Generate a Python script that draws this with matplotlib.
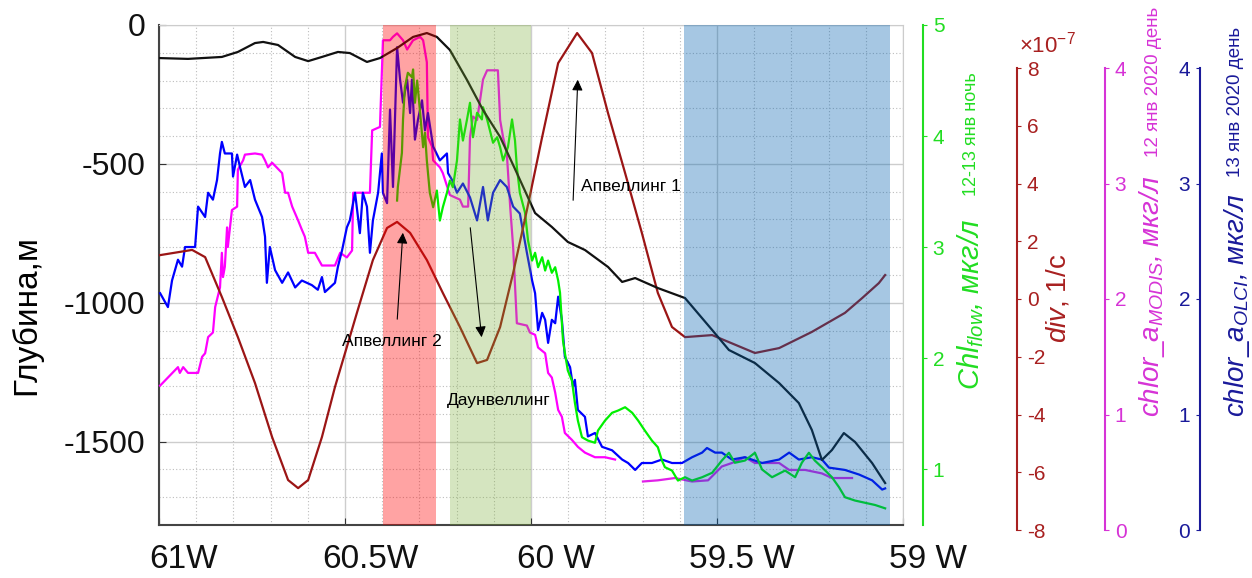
import matplotlib.pyplot as plt
from matplotlib.ticker import MultipleLocator, FixedLocator
from matplotlib.transforms import ScaledTranslation

plt.rcParams['font.family'] = ['Liberation Sans', 'DejaVu Sans']
plt.rcParams['mathtext.fontset'] = 'custom'
plt.rcParams['mathtext.rm'] = 'Liberation Sans'
plt.rcParams['mathtext.it'] = 'Liberation Sans:italic'
plt.rcParams['axes.unicode_minus'] = False

# ---- data (longitude, deg; negative = W) ----
depth_lon = [-61.0, -60.922, -60.831, -60.788, -60.742, -60.720, -60.680, -60.634, -60.599,
             -60.562, -60.519, -60.487, -60.441, -60.406, -60.360, -60.317, -60.280, -60.253,
             -60.218, -60.172, -60.129, -60.083, -60.038, -59.989, -59.944, -59.901, -59.855,
             -59.793, -59.755, -59.720, -59.659, -59.586, -59.513, -59.468, -59.398, -59.333,
             -59.280, -59.245, -59.218, -59.191, -59.159, -59.129, -59.083, -59.048]
depth_m = [-119, -122, -115, -97, -65, -61, -72, -115, -130,
           -115, -97, -101, -133, -119, -83, -43, -29, -43,
           -90, -198, -306, -403, -533, -677, -727, -781, -810,
           -871, -925, -911, -947, -983, -1098, -1170, -1217, -1289,
           -1361, -1458, -1566, -1530, -1469, -1501, -1577, -1649]

div_lon = [-60.997, -60.911, -60.876, -60.831, -60.788, -60.742, -60.696, -60.653, -60.626,
           -60.599, -60.562, -60.527, -60.495, -60.468, -60.425, -60.387, -60.360, -60.325,
           -60.280, -60.237, -60.191, -60.145, -60.118, -60.083, -60.048, -60.011, -59.970,
           -59.927, -59.876, -59.836, -59.793, -59.747, -59.702, -59.659, -59.621, -59.586,
           -59.513, -59.398, -59.333, -59.245, -59.156, -59.110, -59.065, -59.048]
div_val = [1.52, 1.70, 1.45, 0.07, -1.32, -2.91, -4.78, -6.27, -6.55,
           -6.27, -4.78, -3.05, -1.66, -0.48, 1.35, 2.46, 2.67, 2.29,
           1.35, 0.21, -0.97, -2.22, -2.11, -0.97, 0.90, 3.08, 5.61,
           8.17, 9.21, 8.52, 6.44, 4.36, 2.29, 0.21, -0.97, -1.32,
           -1.25, -1.87, -1.70, -1.14, -0.48, 0.03, 0.55, 0.83]

olci_lon = [-60.997, -60.976, -60.965, -60.949, -60.938, -60.930, -60.903, -60.895, -60.876,
            -60.868, -60.855, -60.844, -60.836, -60.831, -60.823, -60.804, -60.801, -60.790,
            -60.782, -60.769, -60.755, -60.742, -60.723, -60.715, -60.710, -60.702, -60.688,
            -60.669, -60.653, -60.634, -60.616, -60.589, -60.573, -60.562, -60.554, -60.527,
            -60.519, -60.508, -60.495, -60.487, -60.473, -60.460, -60.452, -60.441, -60.433,
            -60.425, -60.411, -60.401, -60.398, -60.387, -60.379, -60.371, -60.360, -60.352,
            -60.344, -60.333, -60.325, -60.320, -60.312, -60.304, -60.293, -60.285, -60.277,
            -60.263, -60.245, -60.226, -60.223, -60.212, -60.199, -60.183, -60.164, -60.145,
            -60.129, -60.116, -60.102, -60.083, -60.065, -60.048, -60.030, -60.011, -59.997,
            -59.989, -59.981, -59.970, -59.962, -59.954, -59.944, -59.935, -59.927, -59.917,
            -59.909, -59.895, -59.887, -59.882, -59.874, -59.855, -59.847, -59.828, -59.809,
            -59.782, -59.755, -59.739, -59.720, -59.702, -59.675, -59.648, -59.621, -59.594,
            -59.567, -59.540, -59.527, -59.505, -59.487, -59.460, -59.425, -59.379, -59.333,
            -59.306, -59.280, -59.245, -59.218, -59.199, -59.156, -59.118, -59.083, -59.056,
            -59.048]
olci_val = [2.05, 1.93, 2.16, 2.34, 2.28, 2.45, 2.45, 2.80, 2.71,
            2.92, 2.86, 3.03, 3.26, 3.36, 3.26, 3.26, 3.06, 3.25,
            3.14, 2.97, 3.03, 2.86, 2.71, 2.54, 2.14, 2.45, 2.25,
            2.14, 2.23, 2.10, 2.16, 2.12, 2.08, 2.19, 2.06, 2.14,
            2.28, 2.42, 2.62, 2.68, 2.92, 2.57, 2.92, 2.80, 2.40,
            2.68, 2.92, 3.26, 2.92, 2.83, 3.64, 2.97, 4.18, 3.90,
            3.70, 3.90, 3.61, 3.90, 3.38, 3.55, 3.72, 3.46, 3.61,
            3.32, 3.20, 3.26, 3.09, 3.03, 2.92, 3.00, 2.88, 2.68,
            2.97, 2.68, 2.92, 3.03, 2.97, 2.80, 2.74, 2.40, 2.16,
            2.05, 1.73, 1.88, 1.82, 1.62, 1.82, 1.79, 2.02, 1.82,
            1.50, 1.41, 1.24, 1.30, 1.04, 0.98, 0.81, 0.84, 0.72,
            0.69, 0.61, 0.58, 0.52, 0.58, 0.58, 0.61, 0.58, 0.58,
            0.63, 0.67, 0.71, 0.67, 0.67, 0.61, 0.63, 0.58, 0.61,
            0.67, 0.61, 0.63, 0.61, 0.54, 0.52, 0.48, 0.43, 0.35,
            0.36]

modis_lon_a = [-60.997, -60.976, -60.949, -60.944, -60.935, -60.922, -60.895, -60.884, -60.876,
               -60.868, -60.855, -60.849, -60.836, -60.831, -60.828, -60.823, -60.817, -60.815,
               -60.804, -60.790, -60.788, -60.774, -60.769, -60.742, -60.723, -60.715, -60.707,
               -60.696, -60.669, -60.661, -60.653, -60.642, -60.634, -60.626, -60.616, -60.608,
               -60.599, -60.581, -60.562, -60.527, -60.513, -60.495, -60.481, -60.478, -60.433,
               -60.427, -60.406, -60.398, -60.379, -60.371, -60.360, -60.344, -60.333, -60.317,
               -60.298, -60.290, -60.280, -60.277, -60.266, -60.263, -60.245, -60.237, -60.218,
               -60.191, -60.183, -60.169, -60.164, -60.156, -60.145, -60.137, -60.129, -60.118,
               -60.089, -60.083, -60.075, -60.065, -60.056, -60.048, -60.038, -60.011, -60.003,
               -59.989, -59.981, -59.962, -59.954, -59.944, -59.935, -59.927, -59.917, -59.909,
               -59.890, -59.874, -59.855, -59.828, -59.801, -59.774]
modis_val_a = [1.25, 1.32, 1.41, 1.36, 1.41, 1.36, 1.36, 1.50, 1.53,
               1.67, 1.71, 1.93, 2.10, 2.40, 2.19, 2.28, 2.62, 2.45,
               2.77, 2.80, 3.12, 3.20, 3.25, 3.26, 3.25, 3.20, 3.14,
               3.18, 3.09, 2.92, 2.92, 2.80, 2.74, 2.68, 2.60, 2.54,
               2.40, 2.40, 2.29, 2.29, 2.40, 2.36, 2.42, 2.92, 2.92,
               3.46, 3.49, 4.24, 4.24, 4.27, 4.30, 4.24, 4.16, 4.24,
               4.27, 4.24, 4.05, 3.40, 3.32, 3.20, 3.14, 3.09, 2.90,
               2.86, 2.80, 2.80, 3.40, 3.58, 3.55, 3.72, 3.90, 3.98,
               3.98, 3.55, 3.40, 3.26, 2.80, 2.45, 1.79, 1.77, 1.71,
               1.69, 1.58, 1.53, 1.36, 1.32, 1.19, 1.04, 0.98, 0.84,
               0.78, 0.72, 0.67, 0.63, 0.63, 0.61]
modis_lon_b = [-59.699, -59.659, -59.613, -59.567, -59.524, -59.487, -59.460, -59.425, -59.398,
               -59.333, -59.306, -59.263, -59.218, -59.191, -59.137]
modis_val_b = [0.42, 0.43, 0.45, 0.42, 0.43, 0.55, 0.58, 0.63, 0.58,
               0.58, 0.52, 0.52, 0.49, 0.45, 0.45]

flow_lon = [-60.360, -60.358, -60.347, -60.344, -60.339, -60.331, -60.320, -60.317, -60.312,
            -60.306, -60.298, -60.290, -60.285, -60.280, -60.272, -60.263, -60.253, -60.245,
            -60.237, -60.226, -60.218, -60.210, -60.199, -60.191, -60.183, -60.172, -60.164,
            -60.156, -60.145, -60.132, -60.129, -60.118, -60.102, -60.091, -60.083, -60.075,
            -60.062, -60.051, -60.043, -60.038, -60.030, -60.016, -60.008, -59.997, -59.989,
            -59.981, -59.970, -59.962, -59.954, -59.944, -59.935, -59.927, -59.922, -59.914,
            -59.909, -59.901, -59.890, -59.882, -59.874, -59.863, -59.847, -59.828, -59.820,
            -59.801, -59.782, -59.766, -59.747, -59.728, -59.712, -59.694, -59.675, -59.659,
            -59.648, -59.640, -59.621, -59.605, -59.586, -59.567, -59.540, -59.513, -59.487,
            -59.468, -59.452, -59.425, -59.398, -59.379, -59.352, -59.317, -59.290, -59.272,
            -59.253, -59.237, -59.218, -59.191, -59.172, -59.156, -59.129, -59.102, -59.075,
            -59.048]
flow_val = [3.42, 3.54, 3.85, 4.15, 4.44, 4.57, 4.53, 4.60, 4.30,
            4.50, 4.21, 3.90, 4.03, 3.78, 3.49, 3.36, 3.51, 3.24,
            3.36, 3.49, 3.60, 3.54, 3.78, 4.15, 3.96, 4.15, 4.30,
            3.99, 4.21, 4.15, 4.26, 4.15, 3.94, 3.99, 3.90, 3.78,
            3.90, 4.15, 3.96, 3.72, 3.49, 3.31, 3.06, 2.88, 2.95,
            2.82, 2.91, 2.79, 2.88, 2.77, 2.82, 2.70, 2.59, 2.16,
            2.05, 1.89, 1.80, 1.60, 1.44, 1.29, 1.26, 1.24, 1.35,
            1.44, 1.51, 1.53, 1.56, 1.51, 1.44, 1.35, 1.26, 1.20,
            1.08, 1.02, 0.99, 0.90, 0.93, 0.90, 0.93, 0.97, 1.08,
            1.15, 1.06, 1.08, 1.15, 1.00, 0.93, 0.99, 0.93, 1.06,
            1.15, 1.08, 1.02, 0.93, 0.84, 0.75, 0.72, 0.70, 0.68,
            0.65]

zones = [(-60.398, -60.255), (-60.218, -60.0), (-59.589, -59.035)]
zone_colors = ['#ff0000', '#77ac30', '#0060b0']
zone_alpha = [0.36, 0.30, 0.35]

xtick_vals = [-61, -60.5, -60, -59.5, -59]
xtick_labels = ['61W', '60.5W', '60 W', '59.5 W', '59 W']

W, H = 1252, 578


def fx(x):
    return x / W


def fy(y):
    return 1 - y / H


fig = plt.figure(figsize=(W / 100, H / 100), dpi=100)
main_pos = [fx(159), fy(525), (903 - 159) / W, 500 / H]
right_pos = [fx(159), fy(530), (903 - 159) / W, 462 / H]

# main axes: depth, grid
ax = fig.add_axes(main_pos)
ax.set_xlim(-61, -59)
ax.set_ylim(-1800, 0)
ax.set_xticks(xtick_vals)
ax.set_xticklabels(xtick_labels, fontsize=24)
ax.xaxis.set_minor_locator(MultipleLocator(0.1))
ax.yaxis.set_major_locator(FixedLocator([-1500, -1000, -500, 0]))
ax.yaxis.set_minor_locator(MultipleLocator(100))
ax.tick_params(axis='y', labelsize=23, direction='in', length=5, pad=10, colors='#333333',
               labelcolor='#111111')
ax.tick_params(axis='x', direction='in', length=5, pad=14, colors='#333333', labelcolor='#111111')
ax.tick_params(which='minor', length=0)
ax.grid(which='major', color='#cdcdcd', lw=1.0)
ax.grid(which='minor', color='#bdbdbd', lw=0.8, ls=(0, (1, 2)))
ax.set_axisbelow(True)
for s in ['left', 'bottom']:
    ax.spines[s].set_color('#444444')
    ax.spines[s].set_linewidth(1.5)
for s in ['top', 'right']:
    ax.spines[s].set_color('#cccccc')
shift = ScaledTranslation(0.25, 0, fig.dpi_scale_trans)
for lab in ax.get_xticklabels():
    lab.set_transform(lab.get_transform() + shift)
fig.text(fx(26), fy(315), 'Глубина,м', rotation=90, ha='center', va='center', fontsize=24)


def side_axes(pos, ylim, spine, where, color, ticks):
    a = fig.add_axes(pos)
    a.set_xlim(-61, -59)
    a.set_ylim(*ylim)
    a.patch.set_visible(False)
    a.xaxis.set_visible(False)
    for s in a.spines:
        a.spines[s].set_visible(False)
    a.spines[spine].set_visible(True)
    a.spines[spine].set_position(('axes', where))
    a.spines[spine].set_color(color)
    a.spines[spine].set_linewidth(1.5)
    a.yaxis.set_ticks_position(spine)
    a.yaxis.set_label_position(spine)
    a.set_yticks(ticks)
    a.tick_params(axis='y', colors=color, labelsize=15, length=3, pad=4)
    return a


ax_mod = side_axes(right_pos, (0, 4), 'right', (1105 - 159) / 744, '#d633d6', [0, 1, 2, 3, 4])
ax_mod.plot(modis_lon_a, modis_val_a, color='#ff00ff', lw=1.6, clip_on=False)
ax_mod.plot(modis_lon_b, modis_val_b, color='#e020e8', lw=1.6, clip_on=False)

ax_olci = side_axes(right_pos, (0, 4), 'left', (1200 - 159) / 744, '#1a1a9a', [0, 1, 2, 3, 4])
ax_olci.plot(olci_lon, olci_val, color='#0000ff', lw=1.6, clip_on=False)

ax_flow = side_axes(main_pos, (0.5, 5), 'right', (923 - 159) / 744, '#22dd22', [1, 2, 3, 4, 5])
ax_flow.plot(flow_lon, flow_val, color='#00f000', lw=1.6, clip_on=False)

ax_div = side_axes(right_pos, (-8, 8), 'right', (1017 - 159) / 744, '#a82020',
                   [-8, -6, -4, -2, 0, 2, 4, 6, 8])
ax_div.plot(div_lon, div_val, color='#9b1515', lw=1.6, clip_on=False)

# overlay: bathymetry, shaded zones and annotations
top = fig.add_axes(main_pos, sharex=ax, sharey=ax)
top.axis('off')
top.plot(depth_lon, depth_m, color='#111111', lw=1.6, zorder=1)
for (a0, a1), c, al in zip(zones, zone_colors, zone_alpha):
    top.axvspan(a0, a1, color=c, alpha=al, lw=0, zorder=3)

arrow = dict(arrowstyle='-|>', color='black', lw=0.8, mutation_scale=16)
top.annotate('', xy=(-59.874, -187), xytext=(-59.887, -641), arrowprops=arrow, zorder=5)
top.annotate('', xy=(-60.344, -738), xytext=(-60.360, -1069), arrowprops=arrow, zorder=5)
top.annotate('', xy=(-60.132, -1134), xytext=(-60.164, -720), arrowprops=arrow, zorder=5)
top.text(-59.866, -583, 'Апвеллинг 1', fontsize=12.5, va='center', zorder=5)
top.text(-60.508, -1141, 'Апвеллинг 2', fontsize=12.5, va='center', zorder=5)
top.text(-60.226, -1350, 'Даунвеллинг', fontsize=12.5, va='center', zorder=5)

# right axis titles
fig.text(fx(971), fy(390), r'$\mathit{Chl}_{\mathit{flow}}$, мкг/л', rotation=90, ha='center',
         va='bottom', fontsize=21, style='italic', color='#22dd22')
fig.text(fx(972), fy(72), '12-13 янв ночь', rotation=90, ha='center', va='top',
         fontsize=13, color='#22dd22')
fig.text(fx(1058), fy(343), r'$\mathit{div}$, 1/с', rotation=90, ha='center', va='bottom',
         fontsize=20, color='#a82020')
fig.text(fx(1019), fy(58), r'$\times10^{-7}$', ha='left', va='bottom', fontsize=16, color='#a82020')
fig.text(fx(1152), fy(417), r'$\mathit{chlor\_a}_{\mathit{MODIS}}$, мкг/л', rotation=90,
         ha='center', va='bottom', fontsize=20, style='italic', color='#d633d6')
fig.text(fx(1153), fy(7), '12 янв 2020 день', rotation=90, ha='center', va='top',
         fontsize=13.5, color='#d633d6')
fig.text(fx(1237), fy(417), r'$\mathit{chlor\_a}_{\mathit{OLCI}}$, мкг/л', rotation=90,
         ha='center', va='bottom', fontsize=20, style='italic', color='#1a1a9a')
fig.text(fx(1236), fy(27), '13 янв 2020 день', rotation=90, ha='center', va='top',
         fontsize=13.5, color='#1a1a9a')

fig.savefig('out.png', dpi=100)
